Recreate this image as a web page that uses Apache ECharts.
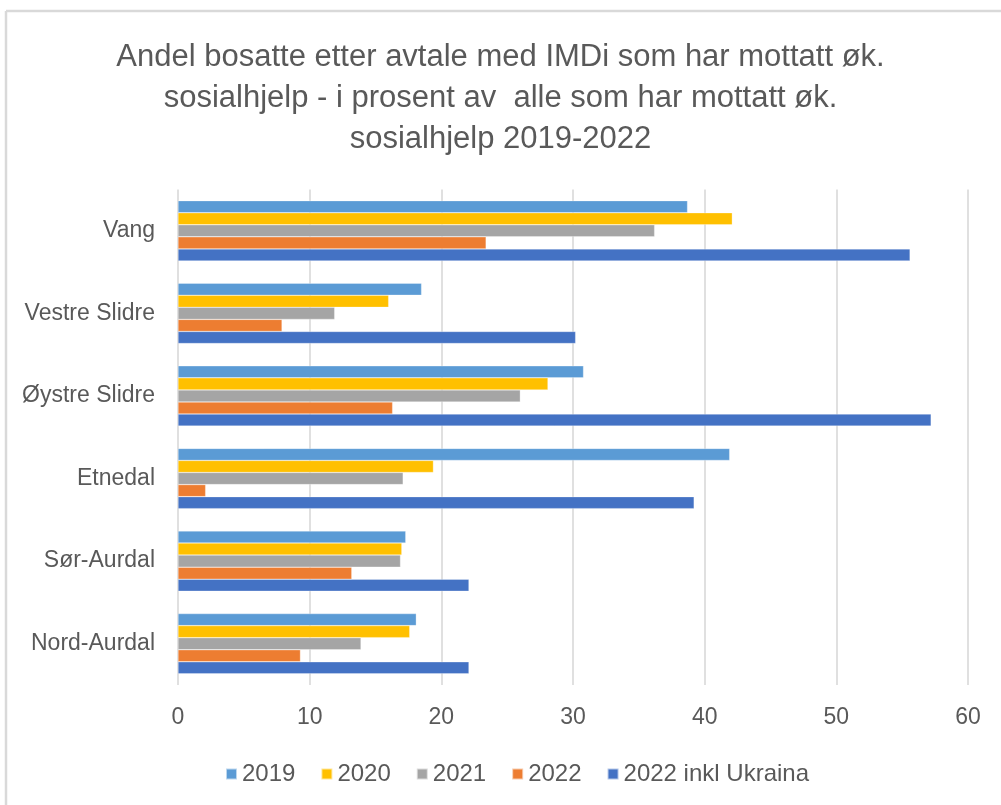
<!DOCTYPE html>
<html>
<head>
<meta charset="utf-8">
<script src="https://cdn.jsdelivr.net/npm/echarts@6/dist/echarts.min.js"></script>
<style>html,body{margin:0;padding:0;background:#fff;}#c{width:1001px;height:805px;}</style>
</head>
<body>
<div id="c"></div>
<script>
const categories = ['Vang', 'Vestre Slidre', 'Øystre Slidre', 'Etnedal', 'Sør-Aurdal', 'Nord-Aurdal'];
const seriesNames = ['2019', '2020', '2021', '2022', '2022 inkl Ukraina'];
const v2019 = [38.7, 18.5, 30.8, 41.9, 17.3, 18.1];
const v2020 = [42.1, 16.0, 28.1, 19.4, 17.0, 17.6];
const v2021 = [36.2, 11.9, 26.0, 17.1, 16.9, 13.9];
const v2022 = [23.4, 7.9, 16.3, 2.1, 13.2, 9.3];
const v2022u = [55.6, 30.2, 57.2, 39.2, 22.1, 22.1];
const xTicks = [0, 10, 20, 30, 40, 50, 60];
const colors = ['#5B9BD5', '#FFC000', '#A5A5A5', '#ED7D31', '#4472C4'];
const allValues = [v2019, v2020, v2021, v2022, v2022u];

const FONT = 'Liberation Sans';
const chart = echarts.init(document.getElementById('c'), null, {renderer: 'canvas'});
chart.setOption({
  animation: false,
  backgroundColor: '#ffffff',
  color: colors,
  title: {
    text: 'Andel bosatte etter avtale med IMDi som har mottatt øk.\nsosialhjelp - i prosent av  alle som har mottatt øk.\nsosialhjelp 2019-2022',
    left: 'center',
    top: 32,
    textStyle: {fontFamily: FONT, fontSize: 31, fontWeight: 'normal', color: '#595959', lineHeight: 41}
  },
  graphic: [
    {type: 'line', shape: {x1: 6, y1: 11, x2: 1001, y2: 11}, style: {stroke: '#d9d9d9', lineWidth: 2.5}},
    {type: 'line', shape: {x1: 6, y1: 11, x2: 6, y2: 805}, style: {stroke: '#d9d9d9', lineWidth: 2.5}}
  ],
  legend: {
    data: seriesNames,
    top: 757,
    left: 220,
    itemWidth: 11,
    itemHeight: 11,
    itemGap: 25,
    icon: 'rect',
    textStyle: {fontFamily: FONT, fontSize: 24, color: '#595959'}
  },
  grid: {left: 178, right: 33, top: 189.5, bottom: 120, containLabel: false},
  xAxis: {
    type: 'value',
    min: xTicks[0],
    max: xTicks[xTicks.length - 1],
    interval: 10,
    axisLine: {show: false},
    axisTick: {show: false},
    splitLine: {show: true, lineStyle: {color: '#d9d9d9', width: 1.6}},
    axisLabel: {fontFamily: FONT, fontSize: 23, color: '#595959', margin: 21}
  },
  yAxis: {
    type: 'category',
    data: categories,
    inverse: true,
    axisLine: {show: false},
    axisTick: {show: false},
    axisLabel: {fontFamily: FONT, fontSize: 23, color: '#595959', margin: 23}
  },
  series: seriesNames.map((n, i) => ({
    name: n,
    type: 'bar',
    data: allValues[i],
    barGap: '0%',
    barCategoryGap: '27%',
    itemStyle: {color: colors[i], borderColor: 'rgba(255,255,255,0.6)', borderWidth: 0.5}
  }))
});
</script>
</body>
</html>
